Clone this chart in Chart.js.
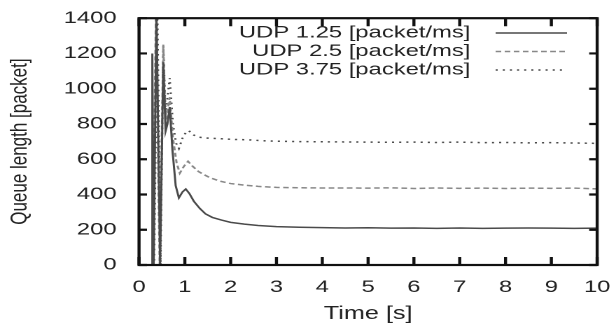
<!DOCTYPE html>
<html>
<head>
<meta charset="utf-8">
<script src="https://cdn.jsdelivr.net/npm/chart.js@4"></script>
<style>
  html, body { margin: 0; padding: 0; background: #fff; overflow: hidden; }
  /* the reference is stretched horizontally, so draw narrow and widen */
  #wrap { width: 440px; height: 325px; transform: scaleX(1.4); transform-origin: 0 0; }
</style>
</head>
<body>
<div id="wrap"><canvas id="queueChart"></canvas></div>
<script>
// Time [s] and queue length [packet]
const solidTimes = [0, 0.27, 0.29, 0.32, 0.38, 0.46, 0.53, 0.58, 0.62, 0.67, 0.73, 0.8, 0.87, 0.95, 1.02, 1.1, 1.2, 1.33, 1.45, 1.6, 1.8, 2.0, 2.3, 2.6, 3.0, 3.5, 4.0, 4.5, 5.0, 5.5, 6.0, 6.5, 7.0, 7.5, 8.0, 8.5, 9.0, 9.5, 10];
const udp125 = [0, 0, 1200, 0, 1450, 0, 1150, 760, 800, 896, 650, 450, 381, 415, 431, 405, 360, 320, 290, 270, 255, 242, 232, 224, 218, 214, 212, 210, 211, 209, 210, 208, 210, 208, 209, 210, 209, 208, 209];

const dashedTimes = [0, 0.3, 0.37, 0.45, 0.53, 0.58, 0.62, 0.67, 0.74, 0.82, 0.89, 0.98, 1.07, 1.17, 1.3, 1.4, 1.55, 1.76, 2.0, 2.27, 2.6, 3.0, 3.5, 4.0, 4.5, 5.0, 5.5, 6.0, 6.5, 7.0, 7.5, 8.0, 8.5, 9.0, 9.5, 10];
const udp25 = [0, 0, 1450, 0, 1250, 800, 870, 952, 720, 580, 521, 560, 588, 560, 530, 515, 495, 476, 462, 454, 446, 440, 438, 437, 437, 436, 438, 434, 437, 435, 436, 434, 436, 435, 436, 432];

const dottedTimes = [0, 0.33, 0.4, 0.47, 0.53, 0.58, 0.62, 0.67, 0.74, 0.81, 0.87, 0.95, 1.03, 1.09, 1.17, 1.3, 1.5, 1.8, 2.1, 2.4, 2.7, 3.0, 3.5, 4.0, 4.5, 5.0, 5.5, 6.0, 6.5, 7.0, 7.5, 8.0, 8.5, 9.0, 9.5, 10];
const udp375 = [0, 0, 1450, 0, 1243, 850, 950, 1060, 800, 690, 661, 720, 755, 762, 740, 725, 720, 716, 712, 710, 705, 702, 700, 699, 698, 697, 696, 697, 695, 697, 694, 695, 693, 694, 692, 690];

const seriesLabels = ['UDP 1.25 [packet/ms]', 'UDP 2.5 [packet/ms]', 'UDP 3.75 [packet/ms]'];
const xTicks = [0, 1, 2, 3, 4, 5, 6, 7, 8, 9, 10];
const yTicks = [0, 200, 400, 600, 800, 1000, 1200, 1400];

const FONT = "'Liberation Sans', Arial, sans-serif";

function toPoints(times, values) {
  return times.map((t, i) => ({ x: t, y: values[i] }));
}

// frame with inward ticks on all four sides
const framePlugin = {
  id: 'frame',
  afterDatasetsDraw(chart) {
    const { ctx, chartArea: a, scales } = chart;
    ctx.save();
    ctx.strokeStyle = '#111';
    ctx.lineWidth = 2.2;
    ctx.beginPath();
    xTicks.forEach(v => {
      const px = scales.x.getPixelForValue(v);
      ctx.moveTo(px, a.bottom); ctx.lineTo(px, a.bottom - 8);
      ctx.moveTo(px, a.top); ctx.lineTo(px, a.top + 8);
    });
    yTicks.forEach(v => {
      const py = scales.y.getPixelForValue(v);
      ctx.moveTo(a.left, py); ctx.lineTo(a.left + 5.7, py);
      ctx.moveTo(a.right, py); ctx.lineTo(a.right - 5.7, py);
    });
    ctx.stroke();
    ctx.strokeRect(a.left, a.top, a.right - a.left, a.bottom - a.top);
    ctx.restore();
  }
};

// key in the top right corner: text first, line sample after it
const keyPlugin = {
  id: 'key',
  afterDraw(chart) {
    const { ctx } = chart;
    const rows = [33, 51.5, 70];
    ctx.save();
    ctx.font = '17px ' + FONT;
    ctx.textAlign = 'right';
    ctx.textBaseline = 'middle';
    chart.data.datasets.forEach((ds, i) => {
      ctx.fillStyle = '#222';
      ctx.fillText(ds.label, 336, rows[i]);
      ctx.strokeStyle = ds.borderColor;
      ctx.lineWidth = ds.borderWidth;
      ctx.setLineDash(ds.borderDash || []);
      ctx.beginPath();
      ctx.moveTo(354, rows[i]);
      ctx.lineTo(405, rows[i]);
      ctx.stroke();
    });
    ctx.restore();
  }
};

new Chart(document.getElementById('queueChart'), {
  type: 'line',
  data: {
    datasets: [
      {
        label: seriesLabels[0],
        data: toPoints(solidTimes, udp125),
        borderColor: '#4a4a4a',
        borderWidth: 1.5,
        borderDash: []
      },
      {
        label: seriesLabels[1],
        data: toPoints(dashedTimes, udp25),
        borderColor: '#888',
        borderWidth: 1.5,
        borderDash: [4, 2.5]
      },
      {
        label: seriesLabels[2],
        data: toPoints(dottedTimes, udp375),
        borderColor: '#4a4a4a',
        borderWidth: 1.5,
        borderDash: [1.5, 3.6]
      }
    ]
  },
  options: {
    responsive: true,
    maintainAspectRatio: false,
    animation: false,
    devicePixelRatio: 2,
    layout: { padding: { top: 15, right: 7, bottom: 0, left: 0 } },
    elements: { point: { radius: 0 }, line: { tension: 0 } },
    plugins: {
      legend: { display: false },
      tooltip: { enabled: false }
    },
    scales: {
      x: {
        type: 'linear',
        min: 0,
        max: 10,
        afterBuildTicks: axis => { axis.ticks = xTicks.map(v => ({ value: v })); },
        afterFit: axis => { axis.height = 60; },
        grid: { display: false },
        border: { display: false },
        ticks: { color: '#222', padding: 4, maxRotation: 0, font: { family: FONT, size: 17 },
                 callback: v => String(v) },
        title: {
          display: true,
          text: 'Time [s]',
          color: '#222',
          padding: { top: 0, bottom: 0 },
          font: { family: FONT, size: 18 }
        }
      },
      y: {
        min: 0,
        max: 1400,
        afterBuildTicks: axis => { axis.ticks = yTicks.map(v => ({ value: v })); },
        afterFit: axis => { axis.width = 99.3; },
        grid: { display: false },
        border: { display: false },
        ticks: { color: '#222', padding: 8, font: { family: FONT, size: 17 },
                 callback: v => String(v) },
        title: {
          display: true,
          text: 'Queue length [packet]',
          color: '#222',
          font: { family: FONT, size: 17 }
        }
      }
    }
  },
  plugins: [framePlugin, keyPlugin]
});
</script>
</body>
</html>
